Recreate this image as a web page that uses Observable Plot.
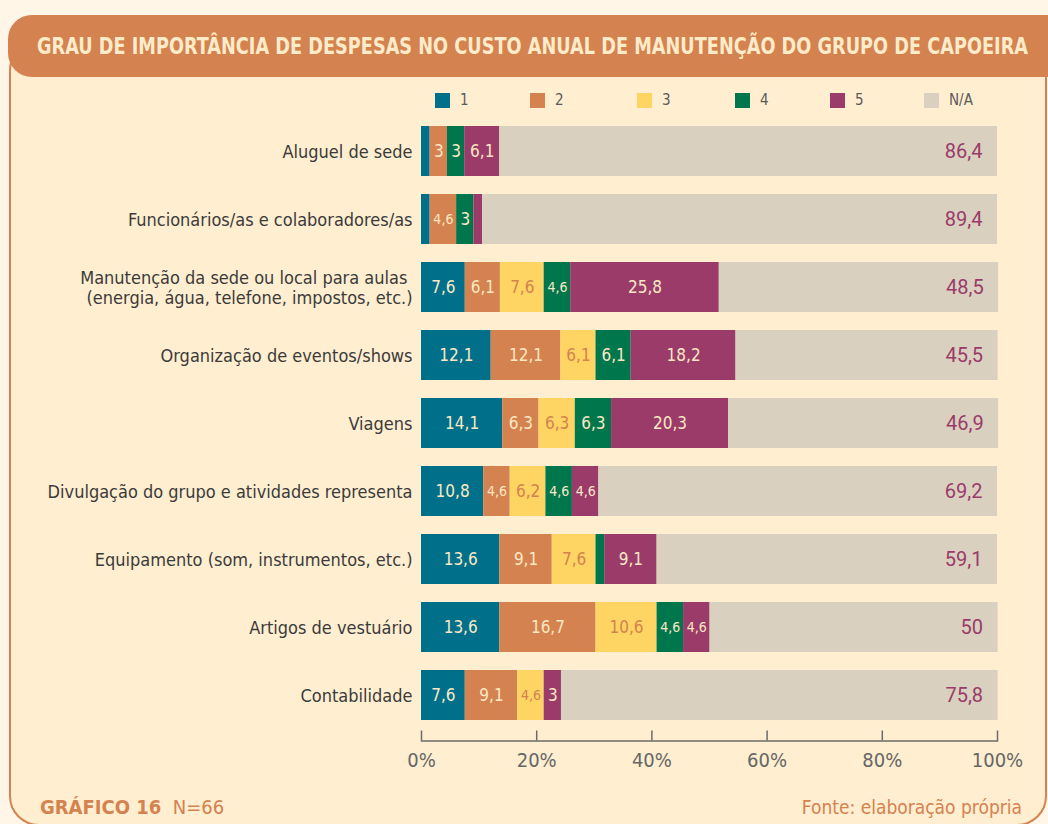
<!DOCTYPE html>
<html><head><meta charset="utf-8">
<script src="https://cdn.jsdelivr.net/npm/d3@7"></script>
<script src="https://cdn.jsdelivr.net/npm/@observablehq/plot@0.6"></script>
<style>
html,body{margin:0;padding:0;background:#fff6e8;}
#wrap{position:relative;width:1048px;height:824px;overflow:hidden;background:#fff6e8;font-family:"Liberation Sans Narrow","DejaVu Sans Condensed","Roboto Condensed",sans-serif;}
#panel{position:absolute;left:9px;top:40px;width:1038px;height:786px;box-sizing:border-box;border:2px solid #d4824f;border-radius:30px;background:#ffeed0;}
#title{position:absolute;left:8px;top:15px;width:1040px;height:62px;box-sizing:border-box;background:#d4824f;border-radius:24px 0 0 24px;color:#fdebc9;font-weight:bold;font-size:23px;line-height:62px;padding-left:29px;white-space:nowrap;overflow:hidden;}
#title span{display:inline-block;transform-origin:0 50%;}
#legend{position:absolute;left:0;top:0;}
.sw{position:absolute;width:15px;height:15px;top:93px;}
.lt{position:absolute;top:91px;font-size:15px;color:#5b5b5b;}
#chart{position:absolute;left:0;top:88px;}
#foot1{position:absolute;left:40px;top:795px;font-size:20px;color:#d4824f;white-space:nowrap;}
#foot2{position:absolute;right:26px;top:796px;font-size:19px;color:#d4824f;white-space:nowrap;}
</style></head>
<body>
<div id="wrap">
  <div id="panel"></div>
  <div id="title"><span id="ttext">GRAU DE IMPORTÂNCIA DE DESPESAS NO CUSTO ANUAL DE MANUTENÇÃO DO GRUPO DE CAPOEIRA</span></div>
  <div id="legend"></div>
  <div id="chart"></div>
  <div id="foot1"><b>GRÁFICO 16</b>&nbsp;&nbsp;N=66</div>
  <div id="foot2">Fonte: elaboração própria</div>
</div>
<script>
const categories = [
  "Aluguel de sede",
  "Funcionários/as e colaboradores/as",
  "Manutenção da sede ou local para aulas \n(energia, água, telefone, impostos, etc.)",
  "Organização de eventos/shows",
  "Viagens",
  "Divulgação do grupo e atividades representa",
  "Equipamento (som, instrumentos, etc.)",
  "Artigos de vestuário",
  "Contabilidade"
];
const keys = ["1","2","3","4","5","N/A"];
const colors = ["#00708a","#d4824f","#fed462","#00764d","#9a3b6a","#d9d0bf"];
const v1  = [1.5, 1.5, 7.6, 12.1, 14.1, 10.8, 13.6, 13.6, 7.6];
const v2  = [3,   4.6, 6.1, 12.1, 6.3,  4.6,  9.1,  16.7, 9.1];
const v3  = [0,   0,   7.6, 6.1,  6.3,  6.2,  7.6,  10.6, 4.6];
const v4  = [3,   3,   4.6, 6.1,  6.3,  4.6,  1.5,  4.6,  0];
const v5  = [6.1, 1.5, 25.8, 18.2, 20.3, 4.6, 9.1,  4.6,  3];
const vNA = [86.4, 89.4, 48.5, 45.5, 46.9, 69.2, 59.1, 50, 75.8];
const xTicks = [0, 20, 40, 60, 80, 100];
const legendX = [435, 530, 637, 735, 830, 924];

const series = [v1, v2, v3, v4, v5, vNA];
const data = [];
categories.forEach((cat, i) => {
  keys.forEach((key, k) => data.push({cat, key, value: series[k][i]}));
});
const fmt = v => String(v).replace(".", ",");
const shown = d => d.key !== "N/A" && d.value >= 3;
const small = d => fmt(d.value).length >= 3 && d.value < 5;

// title fit
const tt = document.getElementById("ttext");
const tw = tt.getBoundingClientRect().width;
tt.style.transform = `scaleX(${991 / tw})`;

// legend
const lg = document.getElementById("legend");
keys.forEach((k, i) => {
  const s = document.createElement("div"); s.className = "sw";
  s.style.left = legendX[i] + "px"; s.style.background = colors[i]; lg.appendChild(s);
  const t = document.createElement("div"); t.className = "lt";
  t.style.left = (legendX[i] + 25) + "px"; t.textContent = k; lg.appendChild(t);
});

const font = '"Liberation Sans Narrow","DejaVu Sans Condensed","Roboto Condensed",sans-serif';
const H = 690, mT = 16.5, mB = 37.5;
const chart = Plot.plot({
  width: 1048, height: H,
  marginLeft: 421, marginRight: 51, marginTop: mT, marginBottom: mB,
  style: {background: "transparent", fontFamily: font},
  x: {domain: [0, 100], axis: null},
  y: {domain: categories, padding: 0.27, axis: null},
  color: {domain: keys, range: colors},
  marks: [
    Plot.barX(data, {y: "cat", x: "value", fill: "key", z: "key"}),
    Plot.text(data, Plot.stackX({y: "cat", x: "value", z: "key",
      text: d => shown(d) && d.key !== "3" ? fmt(d.value) : "",
      fill: "#fbe8c4", fontSize: d => small(d) ? 14 : 17})),
    Plot.text(data, Plot.stackX({y: "cat", x: "value", z: "key",
      text: d => shown(d) && d.key === "3" ? fmt(d.value) : "",
      fill: "#d4824f", fontSize: d => small(d) ? 14 : 17})),
    Plot.text(data, Plot.stackX2({y: "cat", x: "value", z: "key",
      text: d => d.key === "N/A" ? fmt(d.value) : "",
      fill: "#9a3b6a", fontSize: 20, fontFamily: "Roboto", textAnchor: "end", dx: -15})),
    Plot.axisY({label: null, tickSize: 0, tickPadding: 9, fontSize: 18, color: "#3b3b3b", lineHeight: 1.1}),
    Plot.frame({anchor: "bottom", stroke: "#6b6b6b", strokeWidth: 1.5}),
    Plot.ruleX(xTicks, {x: d => d, stroke: "#6b6b6b", strokeWidth: 1.5, insetTop: H - mT - mB - 10}),
    Plot.axisX({label: null, ticks: xTicks, tickFormat: d => d + "%", tickSize: 0, tickPadding: 12, fontSize: 20, color: "#666"})
  ]
});
document.getElementById("chart").appendChild(chart);
</script>
</body></html>
